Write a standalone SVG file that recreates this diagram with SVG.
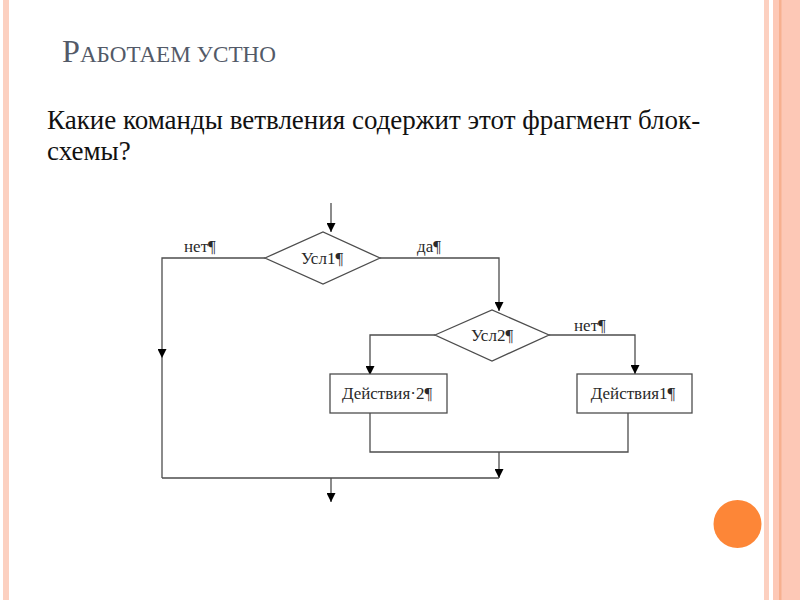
<svg xmlns="http://www.w3.org/2000/svg" width="800" height="600" viewBox="0 0 800 600">
<style>
.ln{fill:none;stroke:#4d4d4d;stroke-width:1.3}
.shape{fill:#fff;stroke:#4d4d4d;stroke-width:1.3}
.lbl{font-family:"Liberation Serif","Times New Roman",serif;font-size:17px;fill:#2a2a2a}
.q{font-family:"Liberation Serif","Times New Roman",serif;font-size:27px;fill:#111}
.title{font-family:"Liberation Serif","Times New Roman",serif;fill:#535a68}
</style>
<defs>
<marker id="ah" viewBox="0 0 10 10" refX="10" refY="5" markerWidth="9" markerHeight="9" markerUnits="userSpaceOnUse" orient="auto">
<path d="M0,0 L10,5 L0,10 Z" fill="#000"/>
</marker>
</defs>
<rect width="800" height="600" fill="#fff"/>
<g id="frame">
<rect x="3" y="0" width="6" height="600" fill="#fcd0c0"/>
<rect x="764" y="0" width="5" height="600" fill="#fcd0c0"/>
<rect x="773" y="0" width="27" height="600" fill="#fdc8b6"/>
<rect x="779" y="0" width="2.5" height="600" fill="#f7b08f"/>
<circle cx="737.5" cy="524" r="24" fill="#fd8637"/>
</g>
<text class="title" x="62" y="62" textLength="214" lengthAdjust="spacingAndGlyphs"><tspan font-size="32">Р</tspan><tspan font-size="23">АБОТАЕМ УСТНО</tspan></text>
<text class="q" x="47" y="129">Какие команды ветвления содержит этот фрагмент блок-</text>
<text class="q" x="47" y="160">схемы?</text>
<g id="connectors">
<line class="ln" x1="331" y1="203" x2="331" y2="232" marker-end="url(#ah)"/>
<polyline class="ln" points="265,258 162,258 162,358" marker-end="url(#ah)"/>
<line class="ln" x1="162" y1="358" x2="162" y2="478"/>
<polyline class="ln" points="380,258 499,258 499,311" marker-end="url(#ah)"/>
<polyline class="ln" points="435,335 370,335 370,375" marker-end="url(#ah)"/>
<polyline class="ln" points="549,335 635,335 635,374" marker-end="url(#ah)"/>
<polyline class="ln" points="370,413 370,452 628,452 628,413"/>
<line class="ln" x1="499" y1="452" x2="499" y2="478" marker-end="url(#ah)"/>
<line class="ln" x1="162" y1="478" x2="499" y2="478"/>
<line class="ln" x1="331" y1="478" x2="331" y2="502" marker-end="url(#ah)"/>
<text class="lbl" x="184" y="252">нет¶</text>
<text class="lbl" x="417" y="252">да¶</text>
<text class="lbl" x="574" y="331">нет¶</text>
</g>
<g id="cond1">
<polygon class="shape" points="265,258 323,232 380,258 323,284"/>
<text class="lbl" x="322" y="264" text-anchor="middle">Усл1¶</text>
</g>
<g id="cond2">
<polygon class="shape" points="435,335 492,310 549,335 492,361"/>
<text class="lbl" x="492" y="341" text-anchor="middle">Усл2¶</text>
</g>
<g id="act2">
<rect class="shape" x="330" y="374" width="117" height="39"/>
<text class="lbl" x="387" y="399" text-anchor="middle">Действия·2¶</text>
</g>
<g id="act1">
<rect class="shape" x="577" y="374" width="115" height="39"/>
<text class="lbl" x="633" y="399" text-anchor="middle">Действия1¶</text>
</g>
</svg>
